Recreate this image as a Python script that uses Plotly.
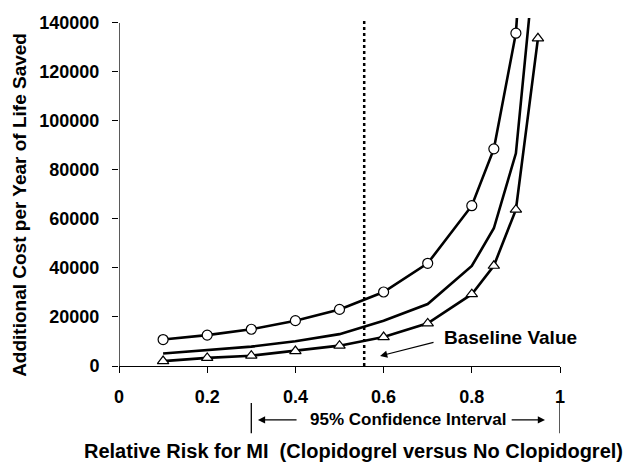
import plotly.graph_objects as go

rr_upper = [0.1, 0.2, 0.3, 0.4, 0.5, 0.6, 0.7, 0.8, 0.85, 0.9, 0.95]
cost_upper = [10800, 12600, 15000, 18500, 23100, 30200, 41900, 65400, 88600, 135800, 270000]

rr_mid = [0.1, 0.2, 0.3, 0.4, 0.5, 0.6, 0.7, 0.8, 0.85, 0.9, 0.95]
cost_mid = [5100, 6500, 7900, 10100, 13000, 18500, 25300, 40800, 56200, 86800, 179000]

rr_lower = [0.1, 0.2, 0.3, 0.4, 0.5, 0.6, 0.7, 0.8, 0.85, 0.9, 0.95]
cost_lower = [2000, 3300, 4200, 6100, 8300, 11800, 17400, 29300, 40900, 63800, 133700]

baseline_rr = 0.556
ci_low, ci_high = 0.3, 1.0

x_ticks = [0, 0.2, 0.4, 0.6, 0.8, 1]
x_ticklabels = ["0", "0.2", "0.4", "0.6", "0.8", "1"]
y_ticks = [0, 20000, 40000, 60000, 80000, 100000, 120000, 140000]
y_ticklabels = [str(v) for v in y_ticks]

FONT = "Arial, Liberation Sans, sans-serif"
BLACK = "#000000"

fig = go.Figure()
fig.add_trace(go.Scatter(
    x=rr_upper, y=cost_upper, mode="lines+markers",
    line=dict(color=BLACK, width=2.6),
    marker=dict(symbol="circle", size=10, color="white", line=dict(color=BLACK, width=1.2)),
    showlegend=False))
fig.add_trace(go.Scatter(
    x=rr_mid, y=cost_mid, mode="lines",
    line=dict(color=BLACK, width=2.6), showlegend=False))
fig.add_trace(go.Scatter(
    x=rr_lower, y=cost_lower, mode="lines+markers",
    line=dict(color=BLACK, width=2.6),
    marker=dict(symbol="triangle-up", size=10, color="white", line=dict(color=BLACK, width=1.2)),
    showlegend=False))

# baseline dotted line
fig.add_shape(type="line", xref="x", yref="paper", x0=baseline_rr, x1=baseline_rr,
              y0=0, y1=0.992, line=dict(color=BLACK, width=2.5, dash="dot"))
# y axis line up to 140000
fig.add_shape(type="line", xref="x", yref="y", x0=0, x1=0, y0=0, y1=140000,
              line=dict(color=BLACK, width=1.3))

# confidence interval markers below axis
for xv in (ci_low, ci_high):
    fig.add_shape(type="line", xref="x", yref="paper", x0=xv, x1=xv,
                  y0=-0.106, y1=-0.193, line=dict(color=BLACK, width=1.3))

fig.add_annotation(x=0.656, y=-0.155, xref="paper", yref="paper",
                   xanchor="center", yanchor="middle",
                   text="95% Confidence Interval", showarrow=False,
                   font=dict(family=FONT, size=17, color=BLACK, weight="bold"))
# arrows (horizontal)
fig.add_annotation(x=0.315, y=-0.155, xref="x", yref="paper",
                   ax=0.406, ay=0, axref="x", ayref="pixel",
                   text="", showarrow=True, arrowhead=2, arrowsize=1.2, arrowwidth=1.2,
                   arrowcolor=BLACK)
fig.add_annotation(x=0.966, y=-0.155, xref="x", yref="paper",
                   ax=0.887, ay=0, axref="x", ayref="pixel",
                   text="", showarrow=True, arrowhead=2, arrowsize=1.2, arrowwidth=1.2,
                   arrowcolor=BLACK)

# baseline value label and arrow
fig.add_annotation(x=0.887, y=11800, xref="x", yref="y", text="Baseline Value",
                   xanchor="center", yanchor="middle", showarrow=False,
                   font=dict(family=FONT, size=19, color=BLACK, weight="bold"))
fig.add_annotation(x=0.592, y=4100, xref="x", yref="y",
                   ax=0.7166, ay=9800, axref="x", ayref="y",
                   text="", showarrow=True, arrowhead=2, arrowsize=1.2, arrowwidth=1.2,
                   arrowcolor=BLACK)

# axis titles
fig.add_annotation(x=0.531, y=-0.244, xref="paper", yref="paper",
                   xanchor="center", yanchor="middle",
                   text="Relative Risk for MI\u00a0\u00a0(Clopidogrel versus No Clopidogrel)",
                   showarrow=False,
                   font=dict(family=FONT, size=20, color=BLACK, weight="bold"))
fig.add_annotation(x=-0.2245, y=0.463, xref="paper", yref="paper",
                   xanchor="center", yanchor="middle",
                   text="Additional Cost per Year of Life Saved", textangle=-90,
                   showarrow=False,
                   font=dict(family=FONT, size=19, color=BLACK, weight="bold"))

fig.update_xaxes(range=[0, 1], tickvals=x_ticks, ticktext=x_ticklabels,
                 showgrid=False, zeroline=False, showline=True, linecolor=BLACK, linewidth=1.3,
                 ticks="outside", ticklen=6, tickcolor=BLACK, tickwidth=1.3,
                 ticklabelstandoff=8,
                 tickfont=dict(family=FONT, size=18, color=BLACK, weight="bold"))
fig.update_yaxes(range=[0, 142000], tickvals=y_ticks, ticktext=y_ticklabels,
                 showgrid=False, zeroline=False, showline=False,
                 ticks="outside", ticklen=6, tickcolor=BLACK, tickwidth=1.3,
                 ticklabelstandoff=9,
                 tickfont=dict(family=FONT, size=18, color=BLACK, weight="bold"))

fig.update_layout(width=630, height=462, margin=dict(l=119, r=70, t=18, b=96),
                  plot_bgcolor="white", paper_bgcolor="white",
                  font=dict(family=FONT, color=BLACK))

fig.write_html("out.html", config={"displayModeBar": False},
               post_script="document.body.style.margin='0px';")
